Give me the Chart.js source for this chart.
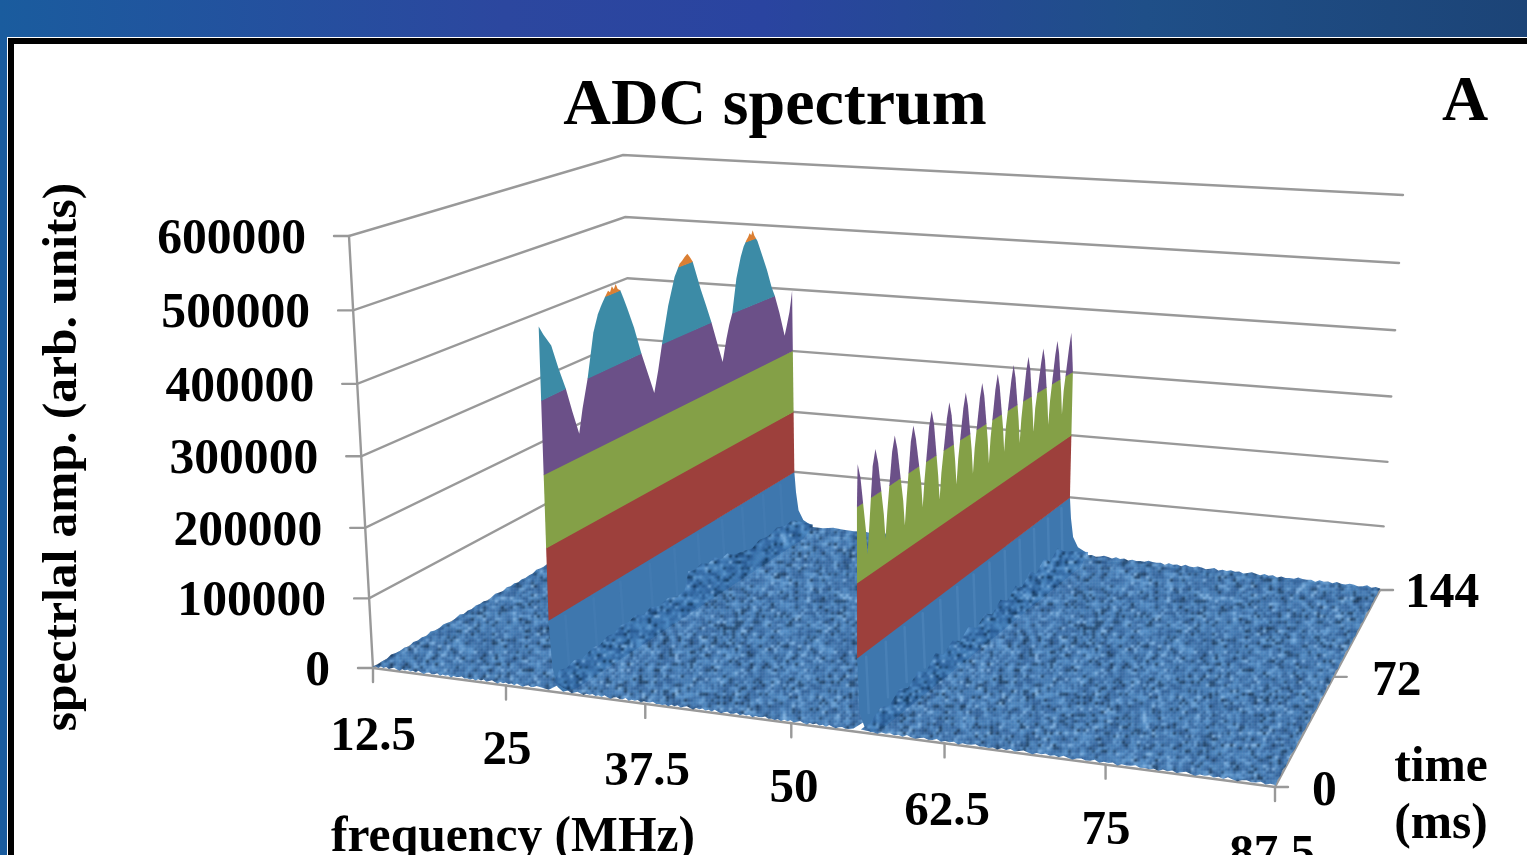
<!DOCTYPE html>
<html>
<head>
<meta charset="utf-8">
<title>ADC spectrum</title>
<script src="https://cdn.jsdelivr.net/npm/chart.js@4"></script>
<style>
html, body { margin: 0; width: 1527px; height: 855px; overflow: hidden;
  background: linear-gradient(90deg, #1a5c9e 0, #2c479f 33%, #2a44a0 50%, #1f4f88 75%, #1c4477 100%); }
#panel { position: absolute; left: 8px; top: 38px; width: 1600px; height: 900px; background: #fff;
  border: 6px solid #000; outline: 1px solid #fff; }
#chart { position: absolute; left: 0; top: 0; display: block; }
</style>
</head>
<body>
<div id="panel"></div>
<canvas id="chart" width="1527" height="855"></canvas>
<script>
// axis ticks
const freqTicks = ["12.5", "25", "37.5", "50", "62.5", "75", "87.5"];
const timeTicks = ["0", "72", "144"];
const ampTicks = ["0", "100000", "200000", "300000", "400000", "500000", "600000"];

// colour bands of the surface (amplitude steps)
const bandEdges = [0, 100000, 200000, 300000, 400000, 500000, 600000];
const bandColors = ["#3e77ae", "#9d403c", "#84a047", "#6b5088", "#3c8ba6", "#db7f33"];

// first ridge: envelope along time (ms, amplitude in thousands)
const ridge1Freq = [29.1, 30.05];
const ridge1Time = [0, 2, 5.5, 8.5, 11.7, 14.5, 17.5, 19.5, 22.5, 26, 28.5, 30.5, 32.5, 34, 35, 36, 37, 38, 39, 40.3, 42, 43.8, 47,
  50.5, 54, 57, 59.5, 62, 66, 70, 71.7, 73, 74.5, 76, 77.6, 79, 80.6, 85, 88, 91, 94, 97.4,
  100, 102, 104, 107, 110, 112, 113.8, 115, 116, 117, 118, 119, 120, 121, 124, 127, 130, 132, 135, 138.4,
  140, 142, 143, 144];
const ridge1Amp = [498, 485, 466, 432, 400, 365, 330, 362, 400, 458, 480, 491, 500, 506, 503, 510, 505, 511, 503, 500, 486, 470, 440,
  400, 365, 335, 365, 400, 451, 488, 497, 504, 507, 511, 514, 508, 500, 455, 428, 400, 368, 333,
  365, 385, 400, 450, 480, 494, 502, 506, 511, 507, 514, 505, 500, 495, 470, 445, 415, 400, 370, 330,
  345, 365, 380, 397];

// second ridge: comb of spikes along time
const ridge2Freq = [55.45, 58.2];
const ridge2Time = [0, 0.4, 1.9, 4.8, 5.8, 6.8, 8.6, 10.1, 11.6, 14.8, 15.8, 16.8, 19.5, 21, 22.5, 26, 27, 28, 30.4, 31.9, 33.4,
  36.7, 37.7, 38.7, 41.4, 42.9, 44.4, 47.2, 48.2, 49.2, 52.5, 54, 55.5, 58, 59, 60, 63.1, 64.6, 66.1, 68.9, 69.9, 70.9,
  74.1, 75.6, 77.1, 79.8, 80.8, 81.8, 84.8, 86.3, 87.8, 90.6, 91.6, 92.6, 96.1, 97.6, 99.1, 101.9, 102.9, 103.9,
  107, 108.5, 110, 112.3, 113.3, 114.3, 118.3, 119.8, 121.3, 123.8, 124.8, 125.8, 129.3, 130.8, 132.3, 134.7, 135.7, 136.7,
  140.5, 142, 143, 144];
const ridge2Amp = [300, 355, 335, 263, 228, 267, 340, 360, 340, 267, 232, 267, 342, 362, 342, 267, 232, 267, 340, 360, 340,
  275, 240, 275, 345, 365, 345, 270, 235, 270, 342, 362, 342, 275, 240, 275, 342, 362, 342, 275, 240, 275,
  342, 362, 342, 275, 240, 275, 342, 362, 342, 277, 242, 277, 342, 362, 342, 275, 240, 275,
  342, 362, 342, 278, 243, 278, 342, 362, 342, 275, 240, 275, 342, 362, 342, 278, 243, 278,
  343, 363, 335, 300];

// height of the noise floor where it meets each ridge
const floor1EdgeTime = [0, 2.7, 6, 10, 14, 19, 23, 27, 30, 34, 38, 42, 46, 50, 55, 60, 65, 69.5, 72, 76, 80, 84, 88, 92, 96, 100, 106, 112, 117, 123, 129, 135, 140, 144];
const floor1EdgeAmp = [14, 26, 22, 26, 21, 27, 24, 30, 27, 33, 30, 34, 27, 31, 25, 28, 22, 23, 49, 45, 48, 41, 45, 36, 38, 30, 26, 21, 27, 24, 29, 23, 25, 14];
const floor2EdgeTime = [0, 5, 11, 16, 22, 27, 33, 38, 44, 49, 55, 60, 66, 71, 77, 82, 88, 93, 99, 104, 110, 115, 121, 126, 132, 137, 144];
const floor2EdgeAmp = [4, 3, 12, 5, 16, 8, 20, 10, 26, 14, 24, 14, 26, 13, 25, 15, 27, 17, 30, 20, 34, 22, 38, 24, 36, 24, 14];

// small ripple on the outer edges of the floor (thousands)
const floorRipple = [1, 2.5, 0.5, 3, 1.5, 3.5, 1, 2.5, 4, 2, 0.5, 3, 2, 3.5, 1.5, 3, 1, 4, 2, 0.5, 2.5, 3.5, 1.5, 2, 4, 1, 3, 2, 3.5, 0.5, 3, 2, 2.5, 4, 1.5, 2];

// grain strings for the floor texture
const grainA = "2103412023140321243012401320423102431023412013240312041230421";
const grainB = "13024210341203142031240321402132041320143021403214023102413";
const grainColors = ["#123256", "#1c446e", "#2a5a92", "#3468a3", "#3d75b0", "#4680b9", "#528ec8", "#659dd3", "#80b3e2"];

// corners of the 3D box on the page: front-left, front-right, back-right, back-left
const floorCorners = [[373, 668], [1275, 787], [1380, 590], [636, 515]];
const topCorners = [[349, 236], [1292, 307], [1403, 195], [623, 155]];

function quadPoint(q, u, v) {
  const dx1 = q[1][0] - q[2][0], dx2 = q[3][0] - q[2][0], sx = q[0][0] - q[1][0] + q[2][0] - q[3][0];
  const dy1 = q[1][1] - q[2][1], dy2 = q[3][1] - q[2][1], sy = q[0][1] - q[1][1] + q[2][1] - q[3][1];
  const den = dx1 * dy2 - dx2 * dy1;
  const g = (sx * dy2 - dx2 * sy) / den, h = (dx1 * sy - sx * dy1) / den;
  const a = q[1][0] - q[0][0] + g * q[1][0], b = q[3][0] - q[0][0] + h * q[3][0];
  const d = q[1][1] - q[0][1] + g * q[1][1], e = q[3][1] - q[0][1] + h * q[3][1];
  const w = g * u + h * v + 1;
  return [(a * u + b * v + q[0][0]) / w, (d * u + e * v + q[0][1]) / w];
}

// frequency (MHz), time (ms), amplitude -> position on the chart plane
function project(f, t, a) {
  const u = (f - 12.5) / 75, v = t / 144, s = a / 600000;
  const lift = 0.96 * s + 0.04 * s * s;
  const lo = quadPoint(floorCorners, u, v);
  const rise = [0, 1].map(k => {
    const d = c => topCorners[c][k] - floorCorners[c][k];
    return (d(0) * (1 - u) + d(1) * u) * (1 - v) + (d(3) * (1 - u) + d(2) * u) * v;
  });
  return { x: lo[0] + rise[0] * lift, y: lo[1] + rise[1] * lift };
}

function ridgeFreq(r, t) { return r[0] + (r[1] - r[0]) * t / 144; }

const sets = [];
function addShape(pts3d, color) {
  sets.push({ data: pts3d.map(p => project(p[0], p[1], p[2])), fill: "shape", backgroundColor: color,
    borderWidth: 0, borderDash: [1, 0], pointRadius: 0, showLine: true, order: -sets.length });
}
function addLine(pts, color, width) {
  sets.push({ data: pts, borderColor: color, borderWidth: width, pointRadius: 0, showLine: true,
    borderCapStyle: "round", order: -sets.length });
}

// one colour band of a ridge wall: a polygon for every run of the envelope above the band's floor
function addBand(r, times, amps, lo, hi, color) {
  const dense = [];
  times.forEach((t, i) => {
    const a = amps[i] * 1000;
    if (i > 0) {
      const p = amps[i - 1] * 1000;
      const cross = [lo, hi].filter(l => (p - l) * (a - l) < 0).sort((m, n) => (m - p) / (a - p) - (n - p) / (a - p));
      cross.forEach(l => dense.push([times[i - 1] + (t - times[i - 1]) * (l - p) / (a - p), l]));
    }
    dense.push([t, a]);
  });
  let run = [];
  const flush = () => {
    if (run.length > 1) {
      const under = lo - 800;
      const poly = run.map(p => [ridgeFreq(r, p[0]), p[0], Math.min(hi, p[1])]);
      const t0 = run[0][0], t1 = run[run.length - 1][0];
      addShape(poly.concat([[ridgeFreq(r, t1), t1, under], [ridgeFreq(r, t0), t0, under]]), color);
    }
    run = [];
  };
  dense.forEach(p => { if (p[1] >= lo) run.push(p); else flush(); });
  flush();
}

// skirt: the blue foot of a wall up to the first band edge, with its tail at the back
function addSkirt(r, notch) {
  const f0 = r[0], f1 = r[1], h = bandEdges[1];
  addShape([[f0, 0, h], [f1, 144, h], [f1 + 0.15, 144, 66000], [f1 + 0.4, 144, 36000], [f1 + 0.9, 144, 20000],
    [f1 + 1.8, 144, 12000], [f1 + 1.8, 138, 0], [f0 + 1.6, 4, 0], [f0 + 1.1, 0, 2000], [f0 + 0.6, 0, 8000], [f0 + 0.2, 0, notch]], bandColors[0]);
}

function addStreaks(r, times, color) {
  times.forEach(t => {
    const f = ridgeFreq(r, t), a = project(f, t, 92000), b = project(f + 0.2, t, 16000);
    addLine([a, b], color, 2.5);
  });
}

function addRidge(r, times, amps) {
  for (let b = 1; b < bandColors.length; b++) addBand(r, times, amps, bandEdges[b], bandEdges[b + 1], bandColors[b]);
}

// floor edge with a little ripple over a base height
function rippleEdge(f0, t0, f1, t1, n, start, base0, base1) {
  const out = [];
  for (let i = 0; i <= n; i++) {
    const s = i / n, a = floorRipple[(start + i) % floorRipple.length];
    out.push([f0 + (f1 - f0) * s, t0 + (t1 - t0) * s, (base0 + (base1 - base0) * s + a) * 1000]);
  }
  return out;
}

function grainPattern() {
  const n = 120, cell = 3, size = n * cell, c = document.createElement("canvas");
  c.width = c.height = size;
  const g = c.getContext("2d");
  g.filter = "blur(0.85px)";
  for (let j = -2; j < n + 2; j++) {
    for (let i = -2; i < n + 2; i++) {
      const x = (i + n) % n, y = (j + n) % n;
      const k = +grainA[(x * x + 3 * y * y + x * y + 5 * x) % grainA.length] + +grainB[(2 * x * x + y * y + 3 * x * y + 7 * y) % grainB.length];
      g.fillStyle = grainColors[k];
      g.fillRect(i * cell, j * cell, cell + 1, cell + 1);
    }
  }
  return document.createElement("canvas").getContext("2d").createPattern(c, "repeat");
}
const grain = grainPattern();

// back wall and side wall lines
const grid = "#999999";
bandEdges.forEach(a => {
  const p = project(12.5, 0, a);
  addLine([{ x: p.x - 15, y: p.y }, p, project(12.5, 144, a), project(87.5, 144, a)], grid, 2.4);
});
addLine([project(12.5, 0, 0), project(12.5, 0, 600000)], grid, 2.4);
addLine([project(12.5, 0, 0), project(87.5, 0, 0)], grid, 2.6);
addLine([project(87.5, 0, 0), project(87.5, 144, 0)], grid, 2.4);
freqTicks.forEach(f => { const p = project(+f, 0, 0); addLine([p, { x: p.x, y: p.y + 14 }], grid, 2.4); });
timeTicks.forEach(t => { const p = project(87.5, +t, 0); addLine([p, { x: p.x + 13, y: p.y }], grid, 2.4); });

// floor left of the first ridge
addShape(rippleEdge(12.5, 0, ridge1Freq[0] - 1.3, 0, 60, 0, 0.5, 1)
  .concat([[ridge1Freq[0] - 0.2, 0, 2000], [ridge1Freq[0] + 0.1, 9, 0], [ridge1Freq[1], 144, 9000]])
  .concat(rippleEdge(ridge1Freq[1], 144, 12.5, 144, 40, 7, 6, 2))
  .concat(rippleEdge(12.5, 144, 12.5, 0, 70, 3, 2, 0)), grain);

addSkirt(ridge1Freq, 35000);
addStreaks(ridge1Freq, [8, 22, 36, 52, 66, 80, 95, 108, 122, 134], "rgba(110,160,210,0.10)");
addRidge(ridge1Freq, ridge1Time, ridge1Amp);

// floor between the ridges
const mid = rippleEdge(ridge1Freq[0] + 1.6, 0, ridge2Freq[0] - 0.7, 0, 90, 5, 0.5, 0.5);
mid.push([ridge2Freq[0] - 0.3, 0, 4000], [ridge2Freq[0], 8, 2000], [ridge2Freq[1], 144, 8000]);
rippleEdge(ridge2Freq[1], 144, ridge1Freq[1] + 1.9, 144, 24, 11, 7, 8).forEach(p => mid.push(p));
for (let i = floor1EdgeTime.length - 1; i >= 0; i--) {
  const t = floor1EdgeTime[i];
  mid.push([ridgeFreq(ridge1Freq, t) + (i === floor1EdgeTime.length - 1 ? 1.9 : 0.3), t, floor1EdgeAmp[i] * 1000]);
}
addShape(mid, grain);

addSkirt(ridge2Freq, 26000);
addStreaks(ridge2Freq, [5, 16, 27, 38, 49, 60, 71, 82, 93, 104, 115, 126, 137], "rgba(120,170,220,0.18)");
addRidge(ridge2Freq, ridge2Time, ridge2Amp);

// floor right of the second ridge
const right = rippleEdge(ridge2Freq[0] + 1.3, 0, 87.5, 0, 90, 9, 0.5, 0.5);
rippleEdge(87.5, 0, 87.5, 144, 50, 2, 0, 0).forEach(p => right.push(p));
rippleEdge(87.5, 144, ridge2Freq[1] + 1.9, 144, 70, 14, 1, 7).forEach(p => right.push(p));
for (let i = floor2EdgeTime.length - 1; i >= 0; i--) {
  const t = floor2EdgeTime[i];
  right.push([ridgeFreq(ridge2Freq, t) + (i === floor2EdgeTime.length - 1 ? 1.9 : 0.3), t, floor2EdgeAmp[i] * 1000]);
}
addShape(right, grain);

// texts sit next to the projected ticks
const serif = '"Liberation Serif", "Times New Roman", serif';
const freqLabelX = [373, 507, 647, 794, 947, 1106, 1272];
const freqLabelBase = [750, 764, 785, 802, 825, 844, 868];
const timeLabelPos = [[1312, 805], [1372, 695], [1405, 607]];
const textPlugin = {
  id: "texts",
  afterDraw(chart) {
    const c = chart.ctx;
    const sx = v => chart.scales.x.getPixelForValue(v), sy = v => chart.scales.y.getPixelForValue(v);
    c.save();
    c.fillStyle = "#000";
    c.textBaseline = "alphabetic";
    c.textAlign = "center";
    c.font = "bold 66px " + serif;
    c.fillText("ADC spectrum", sx(775), sy(124));
    c.font = "bold 64px " + serif;
    c.fillText("A", sx(1465), sy(120));
    c.font = "bold 49px " + serif;
    freqTicks.forEach((f, i) => c.fillText(f, sx(freqLabelX[i]), sy(freqLabelBase[i])));
    c.font = "bold 49.6px " + serif;
    c.fillText("frequency (MHz)", sx(513), sy(851));
    c.fillText("time", sx(1441), sy(781));
    c.fillText("(ms)", sx(1441), sy(838));
    c.textAlign = "right";
    ampTicks.forEach(a => {
      const p = project(12.5, 0, +a);
      c.fillText(a, p.x - 43, p.y + 17);
    });
    c.textAlign = "left";
    timeTicks.forEach((t, i) => c.fillText(t, sx(timeLabelPos[i][0]), sy(timeLabelPos[i][1])));
    c.translate(sx(76), sy(457));
    c.rotate(-Math.PI / 2);
    c.textAlign = "center";
    c.font = "bold 49.5px " + serif;
    c.fillText("spectrlal amp. (arb. units)", 0, 0);
    c.restore();
  }
};

new Chart(document.getElementById("chart"), {
  type: "scatter",
  data: { datasets: sets },
  options: {
    responsive: false,
    animation: false,
    events: [],
    layout: { padding: 0 },
    plugins: { legend: { display: false }, tooltip: { enabled: false } },
    scales: {
      x: { type: "linear", min: 0, max: 1527, display: false },
      y: { type: "linear", min: 0, max: 855, reverse: true, display: false }
    }
  },
  plugins: [textPlugin]
});
</script>
</body>
</html>
